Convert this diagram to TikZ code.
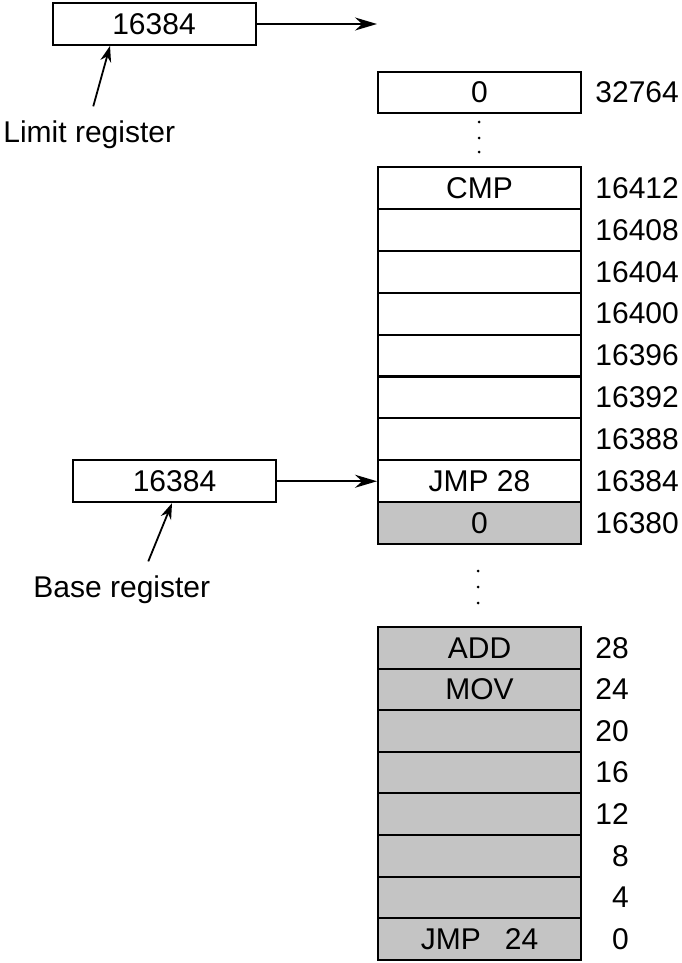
\documentclass[tikz,border=0pt]{standalone}
\usepackage{fontspec}
\setmainfont{Liberation Sans}
\usetikzlibrary{arrows.meta, positioning}
\definecolor{memgray}{HTML}{C4C4C4}

\begin{document}
\begin{tikzpicture}[x=0.5pt, y=-0.5pt,
    cell/.style={draw, line width=1pt, minimum width=101.5pt, minimum height=20.9pt,
                 inner sep=0pt, font=\fontsize{15}{18}\selectfont},
    addr/.style={inner sep=0pt, font=\fontsize{15}{18}\selectfont},
    lbl/.style={inner sep=0pt, anchor=base west, font=\fontsize{15}{18}\selectfont},
    ptr/.style={-{Stealth[length=8pt, width=5.5pt]}, line width=0.9pt},
    longptr/.style={-{Stealth[length=11pt, width=6.5pt]}, line width=0.9pt}]
  \useasboundingbox (0,0) rectangle (681,963);

  % registers
  \node[cell] (limit) at (154,24) {16384};
  \node[lbl] (limtext) at (3,142) {Limit register};
  \node[cell] (base) at (174.5,{167+41.9*7.5}) {16384};
  \node[lbl] (basetext) at (33,597) {Base register};

  % top word of memory
  \node[cell] (top) at (479.5,92.5) {0};
  \node[addr, right=6.5pt of top] (topaddr) {32764};
  \foreach \y in {122,138,152}
    \fill (479,\y) circle (0.75pt);

  % second program, loaded at 16384
  \foreach \txt [count=\i] in {CMP,{},{},{},{},{},{},JMP 28}
    \node[cell] (hi\i) at (479.5,{167+41.9*(\i-0.5)}) {\txt};
  \node[cell, fill=memgray] (hi9) at (479.5,{167+41.9*8.5}) {0};
  \foreach \i in {1,...,9}
    \node[addr, right=6.5pt of hi\i] (hiaddr\i) {\the\numexpr16416-4*\i\relax};

  \foreach \y in {571,587,603}
    \fill (478,\y) circle (0.75pt);

  % first program, loaded at 0
  \foreach \txt [count=\i] in {ADD,MOV,{},{},{},{},{},JMP\hspace{0.8em}24}
    \node[cell, fill=memgray] (lo\i) at (479.5,{627+41.6*(\i-0.5)}) {\txt};
  \foreach \i in {1,...,8}
    \node[addr, right=6.5pt of lo\i] (loaddr\i)
      {\ifnum\numexpr32-4*\i\relax<10 \phantom{0}\fi\the\numexpr32-4*\i\relax};

  % arrows
  \coordinate (limend) at (377,24);
  \draw[longptr] (limit) -- (limend);
  \draw[longptr] (base) -- (hi8);
  \draw[ptr] ([xshift=2pt, yshift=6.75pt]limtext.north) -- ([xshift=-22pt]limit.south);
  \draw[ptr] ([xshift=13.25pt, yshift=6.75pt]basetext.north) -- ([xshift=-1.25pt]base.south);
\end{tikzpicture}
\end{document}
